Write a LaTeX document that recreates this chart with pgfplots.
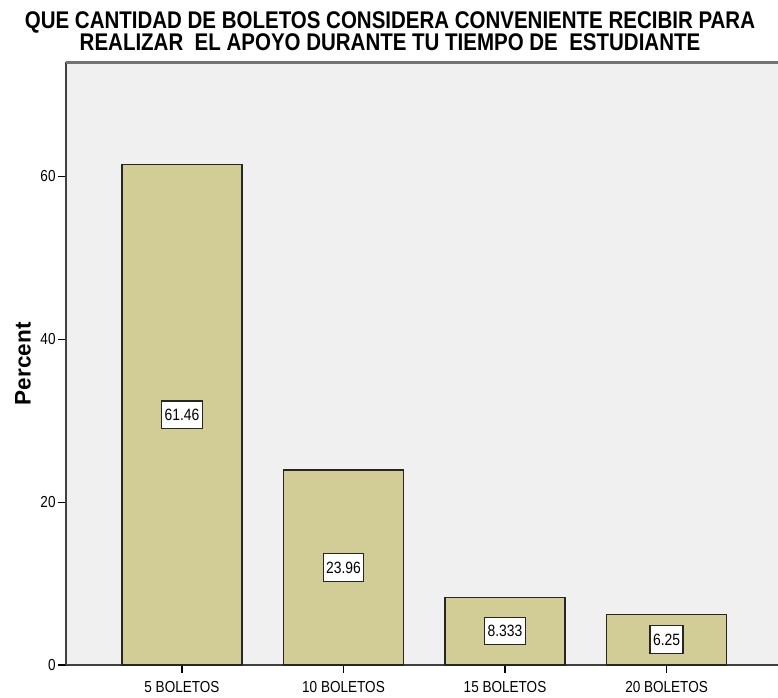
\documentclass[border=0pt]{standalone}
\usepackage{fontspec}
\setmainfont{Liberation Sans}
\newfontfamily\narrow[FakeStretch=0.85]{Liberation Sans}
\usepackage{pgfplots}
\pgfplotsset{compat=1.18}
\definecolor{barcol}{RGB}{210,205,150}
\definecolor{bgcol}{RGB}{240,240,240}
\begin{document}
\begin{tikzpicture}
\begin{axis}[
  name=ax,
  width=356bp, height=301.25bp, scale only axis,
  xmin=-0.718, xmax=3.69, ymin=0, ymax=74,
  axis lines=left, axis line style={-, draw=black!75, line width=0.7pt},
  axis background/.style={fill=bgcol},
  xtick={0,1,2,3},
  xticklabels={5 BOLETOS,10 BOLETOS,15 BOLETOS,20 BOLETOS},
  ytick={0,20,40,60},
  tick align=outside, major tick length=4bp,
  tick style={black, line width=0.6pt},
  /pgf/number format/assume math mode=true,
  ticklabel style={font=\narrow\fontsize{8}{9}\selectfont},
  yticklabel style={xshift=2.3bp},
  xticklabel style={yshift=-0.5bp},
  ylabel={\bfseries Percent},
  ylabel style={font=\fontsize{11.3}{13}\selectfont, yshift=-2bp},
  title={QUE CANTIDAD DE BOLETOS CONSIDERA CONVENIENTE RECIBIR PARA\\REALIZAR\ \ EL APOYO DURANTE TU TIEMPO DE\ \ ESTUDIANTE},
  title style={font=\narrow\bfseries\fontsize{12.1}{11}\selectfont, align=center, xshift=-16bp, yshift=-3.5bp},
  clip=false,
]
\addplot[ybar, bar width=60bp, fill=barcol, draw=black!85, line width=0.6pt]
  coordinates {(0,61.46) (1,23.96) (2,8.333) (3,6.25)};
\addplot[only marks, mark=none, point meta=explicit symbolic, nodes near coords,
  nodes near coords style={anchor=center, draw=black!85, fill=white, line width=0.6pt,
    inner xsep=1.5bp, inner ysep=4bp, font=\narrow\fontsize{8.2}{9}\selectfont}]
  coordinates {(0,30.73)[61.46] (1,11.98)[23.96] (2,4.1665)[8.333] (3,3.125)[6.25]};
\draw[draw=black!55, line width=1.1pt] (rel axis cs:0,1) -- (rel axis cs:1,1);
\end{axis}
\pgfresetboundingbox
\path ([xshift=-33bp,yshift=-16.5bp]ax.south west) rectangle ([yshift=31.25bp]ax.north east);
\end{tikzpicture}
\end{document}
